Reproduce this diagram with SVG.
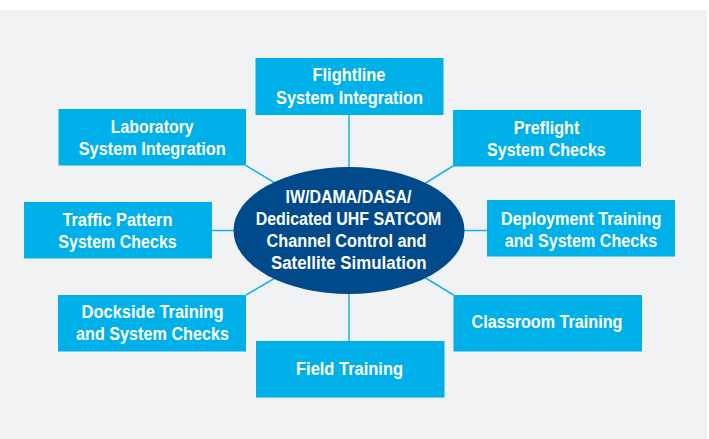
<svg xmlns="http://www.w3.org/2000/svg" width="709" height="439" viewBox="0 0 709 439">
<style>
.box{fill:#00b0e8}
.t{font-family:"Liberation Sans",Arial,sans-serif;font-weight:bold;font-size:18px;fill:#ffffff;text-anchor:middle}
.c{stroke:#1cb1e6;stroke-width:1.5;fill:none}
</style>
<rect x="0" y="0" width="709" height="439" fill="#ffffff"/>
<rect x="0" y="10" width="707" height="429" fill="#f1f2f4"/>
<g id="connectors">
<line class="c" x1="349" y1="115" x2="349" y2="168"/>
<line class="c" x1="349" y1="293" x2="349" y2="341"/>
<line class="c" x1="212" y1="230.5" x2="234" y2="230.5"/>
<line class="c" x1="464" y1="230.5" x2="487" y2="230.5"/>
<line class="c" x1="246" y1="165.5" x2="275" y2="183"/>
<line class="c" x1="453" y1="166" x2="424" y2="184"/>
<line class="c" x1="246" y1="295" x2="275" y2="278"/>
<line class="c" x1="453.5" y1="295" x2="424" y2="277"/>
</g>
<g id="center">
<ellipse cx="349" cy="230.5" rx="115.5" ry="63.5" fill="#004a8c"/>
<text class="t" x="348.5" y="203.3" textLength="126" lengthAdjust="spacingAndGlyphs">IW/DAMA/DASA/</text>
<text class="t" x="348.5" y="225" textLength="185.7" lengthAdjust="spacingAndGlyphs">Dedicated UHF SATCOM</text>
<text class="t" x="346.5" y="246.7" textLength="160" lengthAdjust="spacingAndGlyphs">Channel Control and</text>
<text class="t" x="348.8" y="269" textLength="155.7" lengthAdjust="spacingAndGlyphs">Satellite Simulation</text>
</g>
<g id="flightline">
<rect class="box" x="255.5" y="58" width="188" height="57"/>
<text class="t" x="349" y="81" textLength="73" lengthAdjust="spacingAndGlyphs">Flightline</text>
<text class="t" x="349.5" y="104" textLength="147" lengthAdjust="spacingAndGlyphs">System Integration</text>
</g>
<g id="laboratory">
<rect class="box" x="58.5" y="109" width="187.5" height="56.5"/>
<text class="t" x="152.2" y="133.2" textLength="83" lengthAdjust="spacingAndGlyphs">Laboratory</text>
<text class="t" x="152.2" y="155.3" textLength="147" lengthAdjust="spacingAndGlyphs">System Integration</text>
</g>
<g id="preflight">
<rect class="box" x="453" y="110" width="188" height="56.5"/>
<text class="t" x="546.5" y="133.5" textLength="65.6" lengthAdjust="spacingAndGlyphs">Preflight</text>
<text class="t" x="546.4" y="155.7" textLength="118.7" lengthAdjust="spacingAndGlyphs">System Checks</text>
</g>
<g id="traffic">
<rect class="box" x="24" y="202" width="188" height="56.5"/>
<text class="t" x="117.4" y="226" textLength="110" lengthAdjust="spacingAndGlyphs">Traffic Pattern</text>
<text class="t" x="117.5" y="248" textLength="118.4" lengthAdjust="spacingAndGlyphs">System Checks</text>
</g>
<g id="deployment">
<rect class="box" x="487" y="200" width="188" height="56.5"/>
<text class="t" x="581.2" y="225.3" textLength="160.3" lengthAdjust="spacingAndGlyphs">Deployment Training</text>
<text class="t" x="581" y="247.3" textLength="152.6" lengthAdjust="spacingAndGlyphs">and System Checks</text>
</g>
<g id="dockside">
<rect class="box" x="58" y="295" width="188" height="56.5"/>
<text class="t" x="152.5" y="318.3" textLength="142" lengthAdjust="spacingAndGlyphs">Dockside Training</text>
<text class="t" x="152.5" y="340.3" textLength="153" lengthAdjust="spacingAndGlyphs">and System Checks</text>
</g>
<g id="field">
<rect class="box" x="256" y="341" width="188.5" height="56.5"/>
<text class="t" x="349.5" y="375" textLength="107" lengthAdjust="spacingAndGlyphs">Field Training</text>
</g>
<g id="classroom">
<rect class="box" x="453.5" y="295" width="188.5" height="56.5"/>
<text class="t" x="547" y="328.3" textLength="151" lengthAdjust="spacingAndGlyphs">Classroom Training</text>
</g>
</svg>
